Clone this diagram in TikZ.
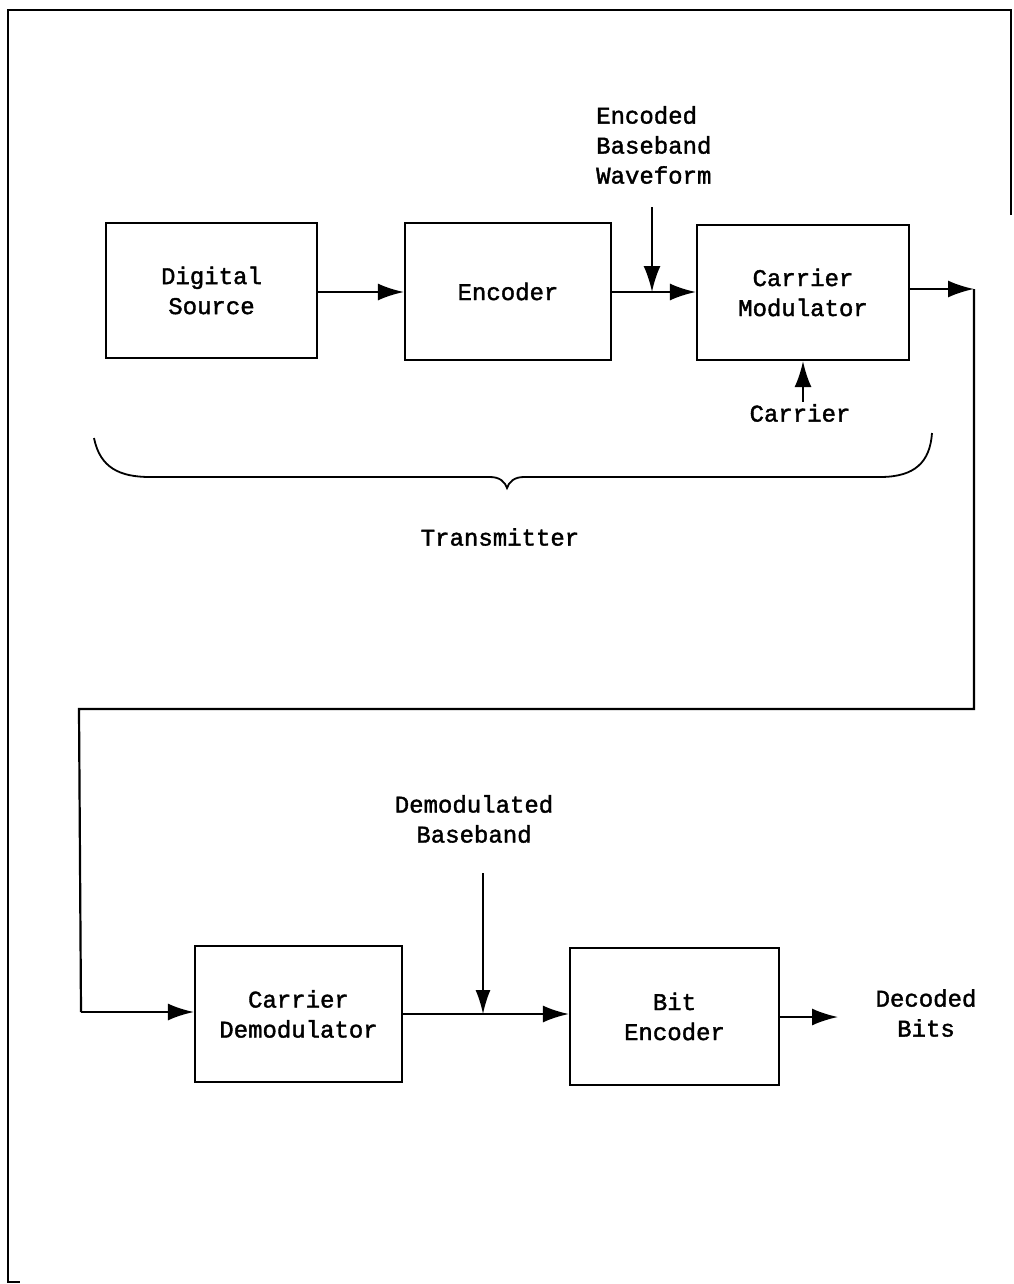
\documentclass[tikz,border=0pt]{standalone}
\usepackage{fontspec}
\setmonofont{Liberation Mono}[FakeBold=1.6]
\usetikzlibrary{arrows.meta}
\begin{document}
\begin{tikzpicture}[x=1pt,y=-1pt,
  blk/.style={draw,line width=2.2pt,rectangle,inner sep=0pt,align=center,
    font=\ttfamily\fontsize{24}{30}\selectfont},
  lbl/.style={inner sep=0pt,align=center,font=\ttfamily\fontsize{24}{30}\selectfont},
  wire/.style={line width=2.2pt},
  arr/.style={line width=2.2pt,-{Latex[length=26pt,width=17pt]}},
  thinarr/.style={line width=1.5pt,-{Latex[length=24pt,width=15pt]}}]
\useasboundingbox (0,0) rectangle (1013,1284);
% page frame
\draw[line width=2.2pt] (1011,215) -- (1011,10) -- (8,10) -- (8,1282) -- (20,1282);

% transmitter blocks
\node[blk,minimum width=211pt,minimum height=135pt] (src) at (211.5,290.5) {Digital\\Source};
\node[blk,minimum width=206pt,minimum height=137pt] (enc) at (508,291.5) {Encoder};
\node[blk,minimum width=212pt,minimum height=135pt] (mod) at (803,292.5) {Carrier\\Modulator};

\draw[arr] (src.east |- 0,292) -- (enc.west |- 0,292);
\draw[arr] (enc.east |- 0,292) -- (mod.west |- 0,292);

\node[lbl,align=left,anchor=west] (ebw) at (596,145) {Encoded\\Baseband\\Waveform};
\coordinate (ebwtop) at (652,207);
\draw[arr] (ebwtop) -- (ebwtop |- 0,292);

\node[lbl] (car) at (800,413) {Carrier};
\draw[arr] (car.north -| mod.south) ++(0,-2) -- (mod.south);

% transmitter brace
\draw[line width=1.8pt] (94,438) .. controls (100,468) and (120,477) .. (150,477)
  -- (490,477) .. controls (500,477) and (505,482) .. (507,488)
  .. controls (509,482) and (514,477) .. (524,477)
  -- (880,477) .. controls (915,477) and (930,462) .. (932,433);
\node[lbl] (tx) at (500,537) {Transmitter};

% channel path
\coordinate (c1) at (974,289);
\coordinate (c2) at (974,709);
\coordinate (c3) at (79,709);
\coordinate (c4) at (81,1012);
\draw[arr] (mod.east |- c1) -- (c1);
\draw[wire] (c1) -- (c2) -- (c3) -- (c4);

% receiver blocks
\node[blk,minimum width=207pt,minimum height=136pt] (dem) at (298.5,1014) {Carrier\\Demodulator};
\node[blk,minimum width=209pt,minimum height=137pt] (bit) at (674.5,1016.5) {Bit\\Encoder};

\draw[arr] (c4) -- (dem.west |- c4);
\draw[arr] (dem.east |- 0,1014) -- (bit.west |- 0,1014);

\node[lbl] (dbb) at (474,819) {Demodulated\\Baseband};
\coordinate (dbbtop) at (483,873);
\draw[thinarr] (dbbtop) -- (dbbtop |- 0,1014);

\node[lbl] (out) at (926,1013) {Decoded\\Bits};
\draw[arr] (bit.east |- 0,1017) -- (838,1017);
\end{tikzpicture}
\end{document}
